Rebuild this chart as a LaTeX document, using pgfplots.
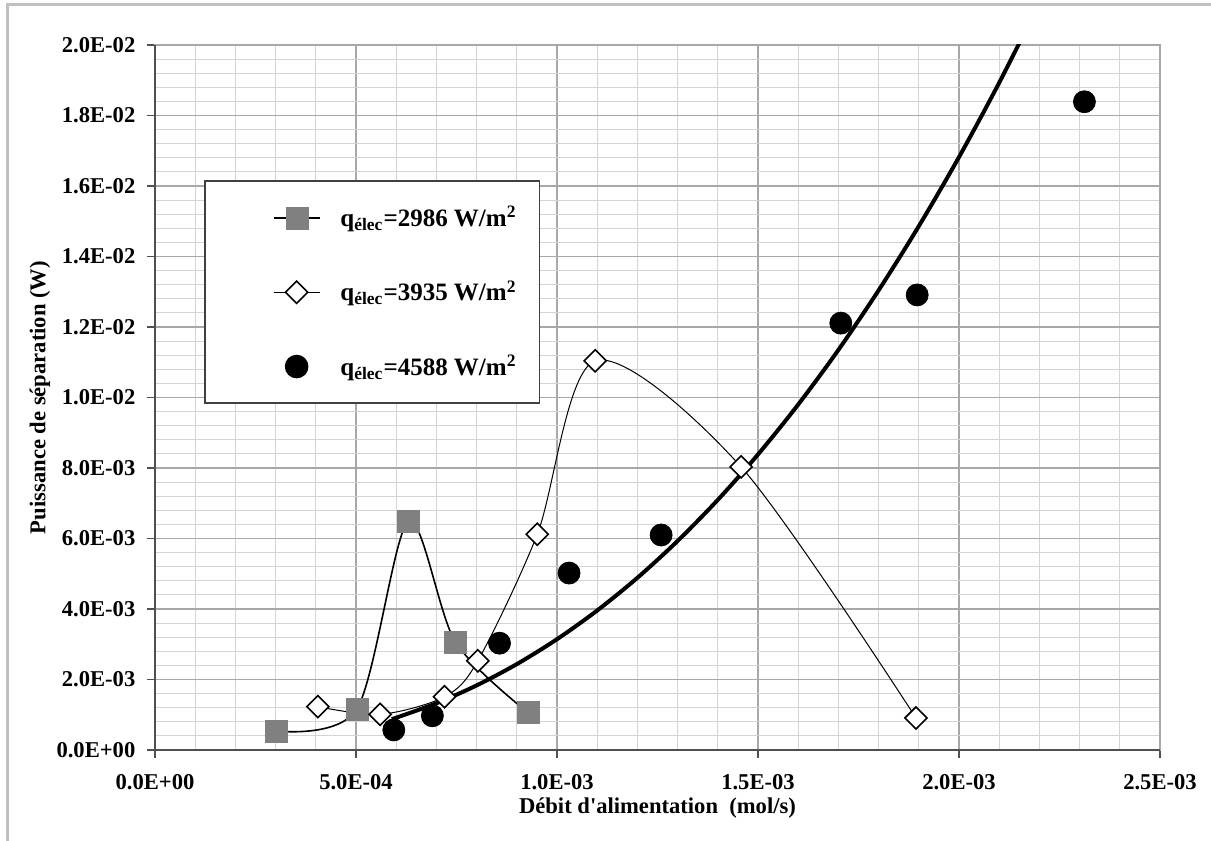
\documentclass[border=0pt]{standalone}
\usepackage{fontspec}
\setmainfont{Liberation Serif}
\usepackage{pgfplots}
\pgfplotsset{compat=1.18}
\definecolor{sqgray}{HTML}{808080}
\definecolor{minorgrid}{HTML}{D4D4D4}
\definecolor{majorgrid}{HTML}{A8A8A8}
\definecolor{framegray}{HTML}{C0C0C0}
\definecolor{axisdark}{HTML}{505050}
\pgfplotsset{
  myleglines/.style={legend image code/.code={\path (-32pt,0pt) (31pt,0pt); \draw[mark repeat=2,mark phase=2,##1] plot coordinates {(0pt,0pt)(11.5pt,0pt)(23pt,0pt)};}},
  mylegmarks/.style={legend image code/.code={\path (-32pt,0pt) (31pt,0pt); \draw[mark repeat=2,mark phase=2,##1, only marks] plot coordinates {(0pt,0pt)(11.5pt,0pt)(23pt,0pt)};}},
}
\begin{document}
\begin{tikzpicture}
\useasboundingbox (0,0) rectangle (605.5pt,420.5pt);
\draw[framegray, line width=1.5pt] (3.5pt,0pt) -- (3.5pt,418pt) -- (605.5pt,418pt);
\begin{axis}[
  at={(77.5pt,45.5pt)}, anchor=south west,
  scale only axis, width=502.5pt, height=352.5pt,
  xmin=0, xmax=0.0025, ymin=0, ymax=0.02,
  scaled ticks=false,
  xtick={0,0.0005,0.001,0.0015,0.002,0.0025},
  xticklabels={0.0E+00,5.0E-04,1.0E-03,1.5E-03,2.0E-03,2.5E-03},
  ytick={0,0.002,0.004,0.006,0.008,0.01,0.012,0.014,0.016,0.018,0.02},
  yticklabels={0.0E+00,2.0E-03,4.0E-03,6.0E-03,8.0E-03,1.0E-02,1.2E-02,1.4E-02,1.6E-02,1.8E-02,2.0E-02},
  minor x tick num=4, minor y tick num=4,
  grid=both,
  minor grid style={minorgrid, line width=0.55pt},
  major grid style={majorgrid, line width=0.65pt},
  tick align=outside, tick pos=left,
  major tick length=4pt, minor tick length=0pt,
  tick style={axisdark, line width=0.6pt},
  axis line style={majorgrid, line width=0.9pt},
  ticklabel style={font=\bfseries\fontsize{11.3}{13}\selectfont},
  xticklabel style={yshift=-4.5pt},
  yticklabel style={xshift=-2.3pt},
  xlabel={Débit d\textquotesingle alimentation~~(mol/s)},
  ylabel={Puissance de séparation (W)},
  label style={font=\bfseries\fontsize{11.3}{13}\selectfont},
  xlabel style={at={(axis description cs:0.5,0)}, anchor=center, yshift=-29pt},
  ylabel style={at={(axis description cs:0,0.5)}, anchor=center, yshift=57.5pt},
  legend style={at={(0.0488,0.8078)}, anchor=north west, draw=black!75, line width=0.8pt,
    fill=white, inner xsep=2pt, inner ysep=10.5pt, row sep=21.5pt,
    font=\bfseries\fontsize{12.5}{15}\selectfont, cells={anchor=west}},
  after end axis/.code={\draw[axisdark, line width=1pt] (rel axis cs:0,1) -- (rel axis cs:0,0) -- (rel axis cs:1,0);},
]
\addplot[black, line width=0.8pt, smooth, mark=square*, mark size=5.5pt,
  mark options={draw=sqgray, fill=sqgray, line width=0.1pt}, myleglines]
coordinates {(0.000301,0.00054) (0.000502,0.00116) (0.000630,0.00648) (0.000747,0.00307) (0.000927,0.00107)};
\addlegendentry{q\textsubscript{élec}=2986 W/m\textsuperscript{2}\hspace*{7.5pt}}

\addplot[black, line width=0.5pt, smooth, mark=square*, mark size=3.9pt,
  mark options={rotate=45, fill=white, draw=black, line width=0.8pt}, myleglines]
coordinates {(0.000405,0.00123) (0.000560,0.00101) (0.000720,0.00151) (0.000803,0.00253) (0.000951,0.00612) (0.001095,0.01104) (0.001458,0.00803) (0.001893,0.00091)};
\addlegendentry{q\textsubscript{élec}=3935 W/m\textsuperscript{2}\hspace*{7.5pt}}

\addplot[only marks, mark=*, mark size=5.5pt, black, mylegmarks]
coordinates {(0.000594,0.00057) (0.000690,0.00097) (0.000857,0.00303) (0.001030,0.00502) (0.001259,0.00610) (0.001706,0.01211) (0.001896,0.01291) (0.002312,0.01839)};
\addlegendentry{q\textsubscript{élec}=4588 W/m\textsuperscript{2}\hspace*{7.5pt}}

\addplot[black, line width=2pt, smooth, forget plot]
coordinates {(0.000589,0.000873) (0.0007,0.001326) (0.0008,0.001832) (0.0009,0.002436) (0.001,0.003143) (0.0011,0.003958) (0.0012,0.004885) (0.0013,0.005930) (0.0014,0.007096) (0.0015,0.008385) (0.0016,0.009801) (0.0017,0.01135) (0.0018,0.01304) (0.0019,0.01486) (0.002,0.01682) (0.0021,0.01893) (0.0022,0.02119)};
\end{axis}
\end{tikzpicture}
\end{document}
